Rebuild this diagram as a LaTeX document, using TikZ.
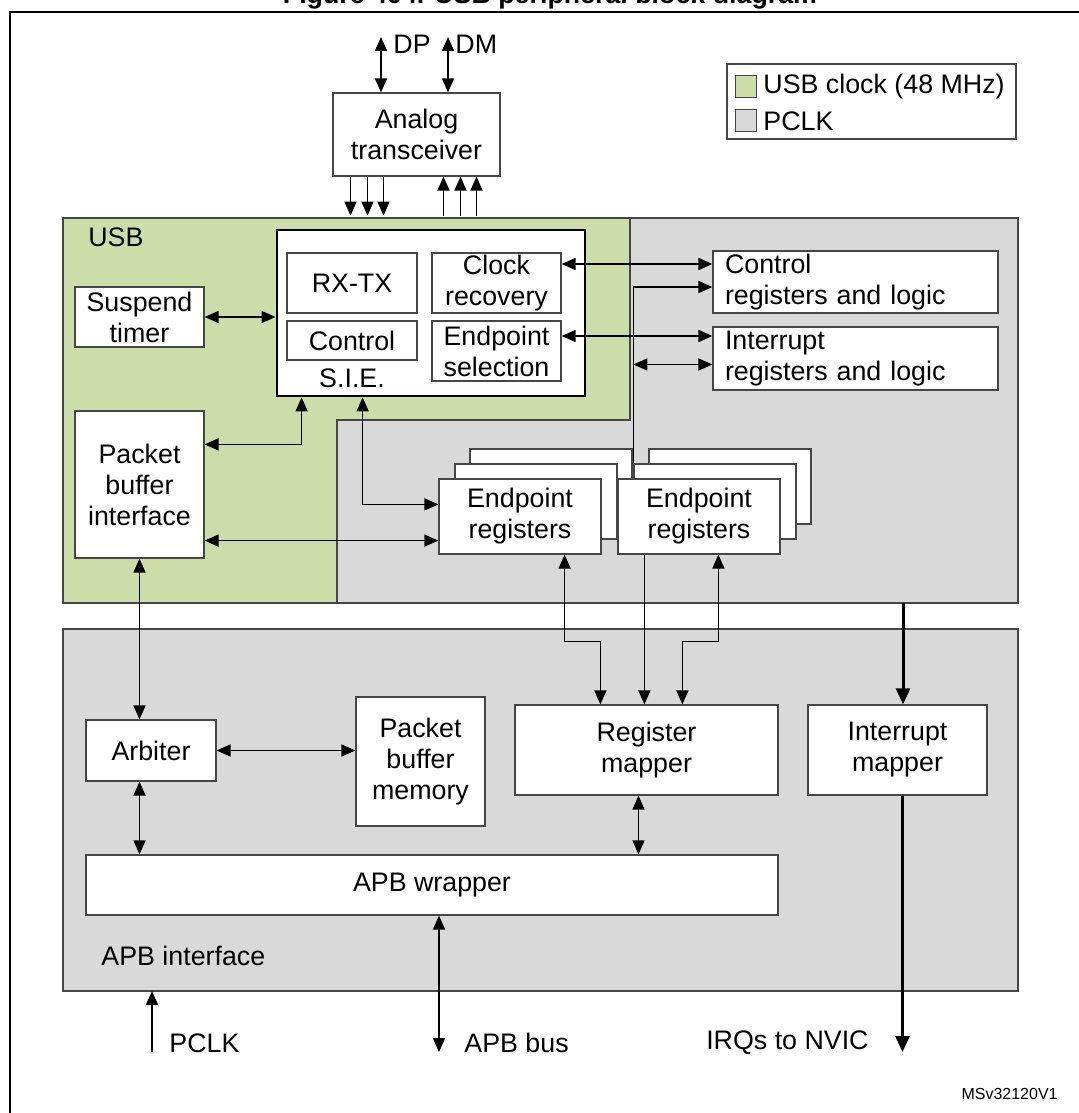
\documentclass[tikz,border=0pt]{standalone}
\usepackage{fontspec}
\setmainfont{Liberation Sans}
\usetikzlibrary{arrows.meta,calc}

\definecolor{usbgreen}{RGB}{205,221,170}
\definecolor{pclkgray}{RGB}{217,217,217}
\definecolor{boxline}{RGB}{70,70,70}

\tikzset{
  blk/.style={draw=boxline, line width=0.6pt, fill=white, align=center, inner sep=0pt,
    font=\fontsize{13.4}{15.5}\selectfont},
  txt/.style={inner sep=0pt, font=\fontsize{13.4}{15.5}\selectfont},
  arr/.style={-{Triangle[length=7pt,width=6pt]}, line width=0.8pt},
  biarr/.style={{Triangle[length=7pt,width=6pt]}-{Triangle[length=7pt,width=6pt]}, line width=0.8pt},
  fatarr/.style={-{Triangle[length=8pt,width=7pt]}, line width=1.5pt},
  keybox/.style={draw=boxline, line width=0.5pt, inner sep=0pt, minimum width=10.5pt, minimum height=11pt},
}

\begin{document}
\begin{tikzpicture}[x=0.5pt,y=-0.5pt]

        \useasboundingbox (0,0) rectangle (1079,1113);
        \clip (0,0) rectangle (1079,1113);

        \node[txt, font=\bfseries\fontsize{13.4}{15.5}\selectfont, anchor=base] (title) at (550,4) {Figure 404. USB peripheral block diagram};
        \draw[line width=1.2pt] (10,12) rectangle (1095,1130);

        \draw[draw=boxline, fill=pclkgray, line width=0.6pt] (337,218) rectangle (1018,603);
        \draw[draw=boxline, fill=usbgreen, line width=0.6pt] (63,218) -- (630,218) -- (630,420) -- (337,420) -- (337,603) -- (63,603) -- cycle;
        \draw[draw=boxline, fill=pclkgray, line width=0.6pt] (63,629) rectangle (1018,991);
        \coordinate (usbbot) at (903,603);
        \coordinate (apbsw) at (63,991);

        \node[txt, anchor=west] (usblbl) at (88,237) {USB};
        \node[txt, anchor=west] (apblbl) at (101,956) {APB interface};

        \node[draw=boxline, fill=white, line width=0.6pt, inner sep=0pt, minimum width=144.5pt, minimum height=37.5pt] (legend) at (871.5,101.5) {};
        \node[keybox, fill=usbgreen] (keyusb) at (745.5,87) {};
        \node[keybox, fill=pclkgray] (keypclk) at (745.5,121) {};
        \node[txt, anchor=west] (usbclk) at (763,87) {USB clock (48 MHz)};
        \node[txt, anchor=west] (pclkkey) at (763,121) {PCLK};

        \node[blk, minimum width=83.5pt, minimum height=41.5pt] (ana) at (416.5,134.5) {Analog\\transceiver};
        \coordinate (dptop) at (381,37);
        \coordinate (dmtop) at (448,37);
        \draw[biarr] (dptop) -- (dptop |- ana.north);
        \draw[biarr] (dmtop) -- (dmtop |- ana.north);
        \node[txt, anchor=west] (dplbl) at (393,44) {DP};
        \node[txt, anchor=west] (dmlbl) at (455,44) {DM};
        \foreach \dx in {-66,-49,-33} \draw[arr] ($(ana.south)+(\dx,0)$) -- ++(0,39);
        \foreach \dx in {27,44,60} \draw[arr] ($(ana.south)+(\dx,39)$) -- ++(0,-39);

        \node[blk, draw=black, line width=1.4pt, minimum width=154pt, minimum height=83pt] (sie) at (431,313) {};
        \node[blk, minimum width=65pt, minimum height=30pt] (rxtx) at (352,283) {RX-TX};
        \node[blk, minimum width=65pt, minimum height=19.5pt] (ctl) at (352,340.5) {Control};
        \node[txt] (sielbl) at (352,378) {S.I.E.};
        \node[blk, minimum width=64.5pt, minimum height=30pt] (clk) at (496.5,283) {Clock\\recovery};
        \node[blk, minimum width=64.5pt, minimum height=30pt] (eps) at (496.5,351) {Endpoint\\selection};

        \node[blk, minimum width=64.5pt, minimum height=30pt] (susp) at (139.5,317) {Suspend\\timer};
        \node[blk, minimum width=64.5pt, minimum height=73.5pt] (pbi) at (139.5,484.5) {Packet\\buffer\\interface};

        \node[blk, align=left, text width=130.5pt, inner xsep=6pt, minimum height=31pt] (creg) at (855.5,282) {Control\\registers and logic};
        \node[blk, align=left, text width=130.5pt, inner xsep=6pt, minimum height=31.5pt] (ireg) at (855.5,358.5) {Interrupt\\registers and logic};

        \node[blk, minimum width=81pt, minimum height=37.5pt] (ep1c) at (551,486.5) {};
        \node[blk, minimum width=81pt, minimum height=37.5pt] (ep1b) at (536,501.5) {};
        \node[blk, minimum width=81pt, minimum height=37.5pt] (ep1) at (520,516.5) {Endpoint\\registers};
        \node[blk, minimum width=81pt, minimum height=37.5pt] (ep2c) at (730,486.5) {};
        \node[blk, minimum width=81pt, minimum height=37.5pt] (ep2b) at (715,501.5) {};
        \node[blk, minimum width=81pt, minimum height=37.5pt] (ep2) at (699,516.5) {Endpoint\\registers};

        \node[blk, minimum width=65pt, minimum height=30.5pt] (arb) at (151,750.5) {Arbiter};
        \node[blk, minimum width=64.5pt, minimum height=64.5pt] (pbm) at (420.5,761.5) {Packet\\buffer\\memory};
        \node[blk, minimum width=131.5pt, minimum height=45pt] (rmap) at (646.5,750) {Register\\mapper};
        \node[blk, minimum width=89.5pt, minimum height=45pt] (imap) at (897.5,750) {Interrupt\\mapper};
        \node[blk, minimum width=346pt, minimum height=30pt] (apbw) at (432,885) {APB wrapper};

        \draw[biarr] (susp.east) -- (susp.east -| sie.west);
        \draw[biarr] ($(pbi.north east)+(0,34)$) -| ($(sie.south west)+(26,0)$);
        \draw[biarr] ($(sie.south west)+(87,0)$) |- ($(ep1.north west)+(0,26)$);
        \draw[biarr] ($(pbi.south east)+(0,-18)$) coordinate (p1) -- (p1 -| ep1.west);
        \draw[biarr] ($(clk.east)+(0,-19)$) coordinate (c1) -- (c1 -| creg.west);
        \draw[biarr] ($(eps.east)+(0,-15)$) coordinate (e1) -- (e1 -| ireg.west);
        \draw[arr] (ep2b.north west) |- ($(creg.west)+(0,5)$);
        \draw[biarr] ($(ireg.west)+(0,6)$) coordinate (i1) -- (i1 -| ep2b.north west);

        \draw[biarr] ($(ep1.south east)+(-37,0)$) -- ++(0,87) -| ($(rmap.north west)+(86,0)$);
        \draw[arr] ($(ep2.south west)+(27,0)$) coordinate (e2) -- (e2 |- rmap.north);
        \draw[biarr] ($(ep2.south west)+(101,0)$) -- ++(0,87) -| ($(rmap.north west)+(168,0)$);

        \draw[biarr] (pbi.south) -- (pbi.south |- arb.north);
        \draw[biarr] (pbi.south |- arb.south) -- (pbi.south |- apbw.north);
        \draw[biarr] (arb.east) -- (arb.east -| pbm.west);
        \draw[biarr] ($(rmap.south)+(-8,0)$) coordinate (r1) -- (r1 |- apbw.north);
        \draw[fatarr] (usbbot) -- (usbbot |- imap.north);

        \coordinate (pclkin) at (152,1052);
        \draw[arr] (pclkin) -- (pclkin |- apbsw);
        \draw[biarr] ($(apbw.south)+(7,0)$) coordinate (b1) -- (b1 |- pclkin);
        \draw[fatarr] ($(imap.south)+(5,0)$) coordinate (i2) -- (i2 |- pclkin);

        \node[txt, anchor=west] (pclklbl) at (169,1043) {PCLK};
        \node[txt, anchor=west] (buslbl) at (464,1043) {APB bus};
        \node[txt, anchor=east] (irqlbl) at (869,1043) {IRQs to NVIC};
        \node[inner sep=0pt, font=\fontsize{8}{9}\selectfont, anchor=east] (figid) at (1058,1094) {MSv32120V1};
    \end{tikzpicture}
\end{document}
